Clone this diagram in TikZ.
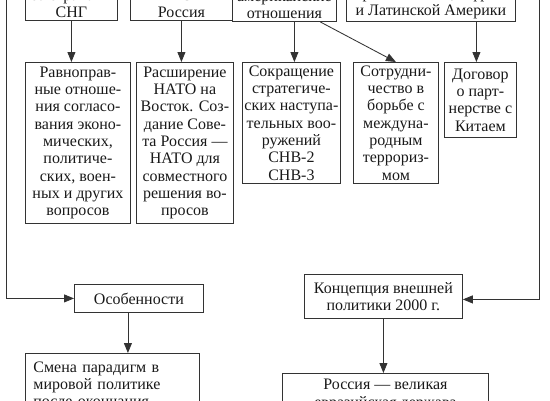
\documentclass[tikz,border=0pt]{standalone}
\usepackage{fontspec}
\setmainfont{Liberation Serif}
\usetikzlibrary{arrows.meta,positioning,calc}

\begin{document}
\begin{tikzpicture}[x=1pt,y=-1pt]
\tikzset{
  basic/.style  = {draw=black!80, line width=0.85pt, align=center, text=black!90,
                   font=\fontsize{16}{17.3}\selectfont, inner xsep=2pt},
  head/.style   = {basic, anchor=south west, inner ysep=2.5pt},
  level 2/.style = {basic, anchor=north west},
  low/.style    = {basic, anchor=north west, inner ysep=6pt},
  link/.style   = {draw=black!80, line width=0.85pt,
                   -{Triangle[length=10pt,width=8pt]}}
}
\useasboundingbox (0,0) rectangle (550,400);
\clip (0,0) rectangle (550,400);

% upper row, cut by the edge of the picture
\node[head, minimum width=92pt]  (sng)   at (25,21)  {со странами\\СНГ};
\node[head, minimum width=102pt] (nato)  at (130,21) {НАТО —\\Россия};
\node[head, minimum width=104pt] (rusam) at (232,22) {американские\\отношения};
\node[head, minimum width=162pt] (azia)  at (346,22) {странами Азии, Африки\\и Латинской Америки};

% second row
\node[level 2, minimum width=105pt, minimum height=161pt] (ravn) at (25,62)
  {Равноправ-\\ные отноше-\\ния согласо-\\вания эконо-\\мических,\\политиче-\\ских, воен-\\ных и других\\вопросов};
\node[level 2, minimum width=97pt, minimum height=161pt] (rasch) at (136,62)
  {Расширение\\НАТО на\\Восток. Соз-\\дание Сове-\\та Россия —\\НАТО для\\совместного\\решения во-\\просов};
\node[level 2, minimum width=95pt, minimum height=121pt] (sokr) at (242,62)
  {Сокращение\\стратегиче-\\ских наступа-\\тельных воо-\\ружений\\СНВ-2\\СНВ-3};
\node[level 2, minimum width=85pt, minimum height=120pt] (sotr) at (353,62)
  {Сотрудни-\\чество в\\борьбе с\\междуна-\\родным\\террориз-\\мом};
\node[level 2, minimum width=72pt, minimum height=75pt] (dogov) at (444,62)
  {Договор\\о парт-\\нерстве с\\Китаем};

% lower part
\node[level 2, minimum width=129pt, minimum height=28pt] (osob) at (74,284) {Особенности};
\node[level 2, minimum width=158pt, minimum height=44pt] (konc) at (304,274)
  {Концепция внешней\\политики 2000 г.};
\node[low, text width=158pt, align=left, inner xsep=8pt, inner ysep=8pt] (smena) at (25,353)
  {Смена парадигм в\\мировой политике\\после окончания};
\node[low, minimum width=206pt] (rossia) at (282,373)
  {Россия — великая\\евразийская держава};

\coordinate (left top)  at (6,-5);
\coordinate (right top) at (539,-5);

\draw[link] (sng.south) -- (sng.south |- ravn.north);
\draw[link] (nato.south) -- (nato.south |- rasch.north);
\draw[link] ([xshift=3pt]sokr.north |- rusam.south) -- ([xshift=3pt]sokr.north);
\draw[link] ([xshift=36pt]rusam.south) -- (sotr.north);
\draw[link] ([xshift=-4pt]dogov.north |- azia.south) -- ([xshift=-4pt]dogov.north);
\draw[link] (left top) |- (osob.west);
\draw[link] (right top) |- ([yshift=-3pt]konc.east);
\draw[link] ([xshift=-11pt]osob.south) -- ([xshift=-11pt]osob.south |- smena.north);
\draw[link] (konc.south) -- (konc.south |- rossia.north);
\end{tikzpicture}
\end{document}
